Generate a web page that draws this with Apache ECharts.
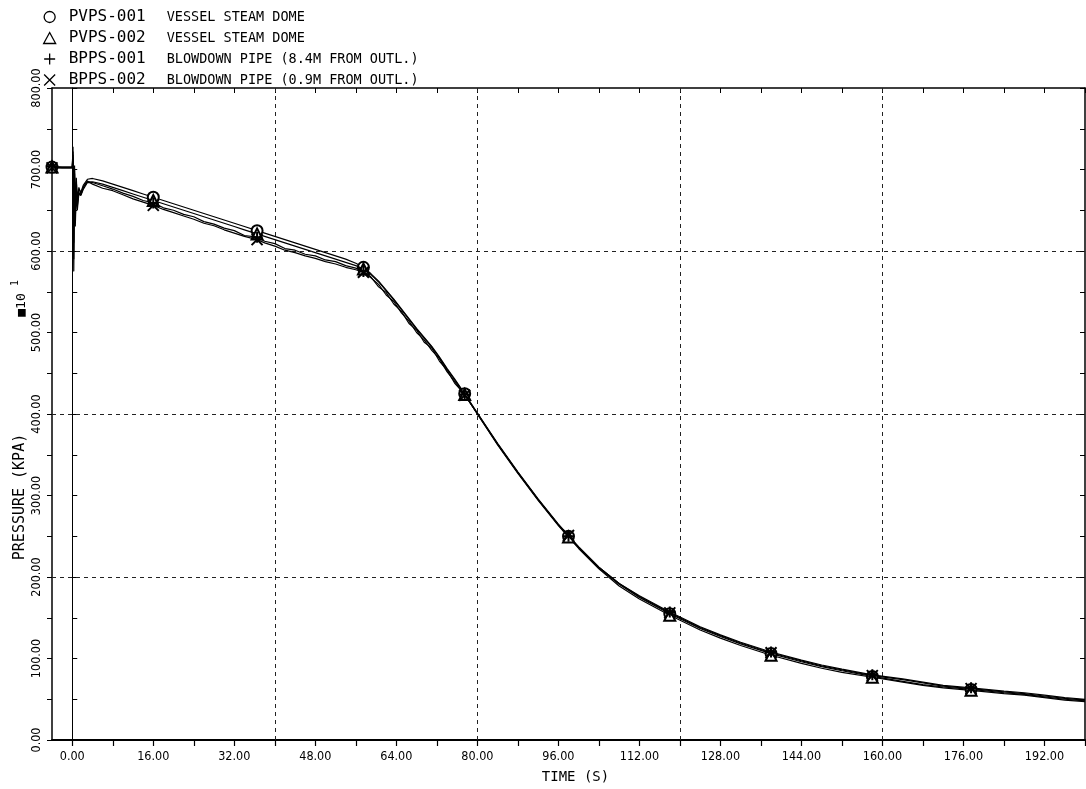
<!DOCTYPE html>
<html>
<head>
<meta charset="utf-8">
<title>Blowdown pressure</title>
<script src="https://cdn.jsdelivr.net/npm/echarts@6/dist/echarts.min.js"></script>
<style>
  html, body { margin: 0; padding: 0; background: #fff; }
  #chart { width: 1086px; height: 789px; }
</style>
</head>
<body>
<div id="chart"></div>
<script>
// Sample times (s), shared by all four pressure channels
const timeS = [
  -4, -2, 0, 0.15, 0.3, 0.45, 0.6, 0.8, 1.0, 1.3, 1.7, 2.2, 3.0,
  4, 6, 8, 10, 12, 14, 16, 18, 20, 22, 24, 26, 28, 30, 32, 34, 36.5, 38, 40, 42, 44, 46, 48, 50, 52, 54, 56, 57.5,
  59, 60.5, 62, 63.5, 65, 66.5, 68, 69.5, 71, 72.5, 74, 75.5, 77.5,
  80, 84, 88, 92, 96, 98, 100, 104, 108, 112, 118, 124, 128, 132, 138, 144, 148, 152, 158, 164, 168, 172, 177.5, 184, 188, 192, 196, 200
];

// Pressure, kPa x 10
const pvps001 = [
  703, 703, 703, 722, 640, 700, 655, 685, 665, 676, 672, 681, 688,
  689, 686, 682, 678, 674, 670, 666, 662, 658, 654, 650, 646, 642, 638, 634, 630, 625, 622, 618, 614, 610, 606, 602, 598, 594, 590, 585, 580,
  572, 563, 552, 541, 529, 517, 505, 494, 483, 470, 456, 443, 425,
  401, 363, 328, 295, 264, 250, 236, 211, 191, 175, 155, 137, 127, 118, 106, 96, 90, 85, 78, 72, 68, 65, 62, 58, 56, 53, 50, 48
];
const pvps002 = [
  703, 702, 702, 715, 610, 695, 645, 690, 660, 678, 670, 679, 685,
  685, 682, 678, 674, 670, 666, 662, 658, 654, 650, 646, 642, 638, 634, 630, 626, 621, 618, 614, 610, 606, 602, 598, 594, 590, 586, 582, 578,
  571, 562, 551, 540, 528, 516, 504, 493, 482, 469, 455, 442, 424,
  400, 362, 327, 294, 263, 249, 235, 210, 189, 173, 153, 135, 125, 116, 104, 94, 88, 83, 77, 71, 67, 64, 61, 57, 55, 52, 49, 47
];
const bpps001 = [
  704, 703, 703, 728, 575, 690, 630, 675, 650, 670, 668, 676, 684,
  684, 680, 676, 671, 667, 662, 659, 653, 650, 645, 642, 636, 633, 628, 625, 619, 617, 612, 609, 603, 601, 596, 594, 589, 587, 582, 579, 575,
  568, 556, 549, 535, 526, 511, 503, 488, 481, 465, 454, 438, 424,
  400, 363, 328, 295, 264, 250, 237, 212, 192, 177, 157, 139, 129, 120, 108, 98, 92, 87, 80, 75, 71, 67, 64, 60, 58, 55, 52, 50
];
const bpps002 = [
  702, 702, 702, 718, 590, 705, 640, 680, 655, 672, 669, 678, 686,
  682, 677, 674, 669, 664, 660, 656, 651, 647, 643, 639, 634, 631, 626, 622, 618, 614, 610, 606, 601, 598, 594, 591, 587, 584, 580, 577, 574,
  567, 559, 546, 538, 524, 514, 500, 491, 478, 468, 452, 440, 423,
  401, 364, 329, 296, 265, 251, 237, 212, 192, 176, 156, 138, 128, 119, 107, 97, 91, 86, 79, 74, 70, 66, 63, 59, 57, 54, 51, 49
];

// Times at which the plotter drew a channel symbol
const markerTimes = [-4, 16, 36.5, 57.5, 77.5, 98, 118, 138, 158, 177.5];

// Axis ticks, labels and dashed reference lines
const xLabelValues = [0, 16, 32, 48, 64, 80, 96, 112, 128, 144, 160, 176, 192];
const xTickValues = [0, 8, 16, 24, 32, 40, 48, 56, 64, 72, 80, 88, 96, 104, 112, 120, 128, 136, 144, 152, 160, 168, 176, 184, 192, 200];
const yLabelValues = [0, 100, 200, 300, 400, 500, 600, 700, 800];
const gridX = [40, 80, 120, 160];
const gridY = [200, 400, 600];

const channels = [
  { name: 'PVPS-001', desc: 'VESSEL STEAM DOME', values: pvps001, symbol: 'emptyCircle' },
  { name: 'PVPS-002', desc: 'VESSEL STEAM DOME', values: pvps002, symbol: 'emptyTriangle' },
  { name: 'BPPS-001', desc: 'BLOWDOWN PIPE (8.4M FROM OUTL.)', values: bpps001, symbol: 'path://M5,0L5,10M0,5L10,5' },
  { name: 'BPPS-002', desc: 'BLOWDOWN PIPE (0.9M FROM OUTL.)', values: bpps002, symbol: 'path://M0,0L10,10M10,0L0,10' }
];

const legendIcons = {
  'PVPS-001': 'circle',
  'PVPS-002': 'triangle',
  'BPPS-001': 'path://M5,0L5,10M0,5L10,5',
  'BPPS-002': 'path://M0,0L10,10M10,0L0,10'
};

const labelFont = "'Liberation Sans Narrow', 'DejaVu Sans Condensed', 'DejaVu Sans', sans-serif";
const plotFont = "'DejaVu Sans Mono', 'Liberation Mono', monospace";

const chart = echarts.init(document.getElementById('chart'), null, { renderer: 'canvas' });

const series = channels.map((ch, k) => {
  const s = {
    name: ch.name,
    type: 'line',
    xAxisIndex: 0,
    yAxisIndex: 0,
    showSymbol: true,
    symbolSize: 11,
    lineStyle: { color: '#000', width: 1.2 },
    itemStyle: { color: '#000', borderColor: '#000', borderWidth: 2 },
    emphasis: { disabled: true },
    z: 3 + k,
    data: timeS.map((t, i) => ({
      value: [t, ch.values[i]],
      symbol: markerTimes.includes(t) ? ch.symbol : 'none'
    }))
  };
  if (k === 0) {
    s.markLine = {
      silent: true,
      symbol: 'none',
      label: { show: false },
      lineStyle: { color: '#222', width: 1, type: [4, 4] },
      data: gridX.map(v => ({ xAxis: v })).concat(gridY.map(v => ({ yAxis: v })))
    };
  }
  return s;
});

const descByName = {};
channels.forEach(ch => { descByName[ch.name] = ch.desc; });

chart.setOption({
  animation: false,
  backgroundColor: '#fff',
  grid: { left: 52, right: 1, top: 88, bottom: 43, containLabel: false },
  legend: {
    orient: 'vertical',
    left: 38,
    top: 4,
    itemWidth: 12,
    itemHeight: 11,
    itemGap: 5,
    selectedMode: false,
    itemStyle: { color: 'transparent', borderColor: '#000', borderWidth: 1.3 },
    data: channels.map(ch => ({ name: ch.name, icon: legendIcons[ch.name] })),
    formatter: name => `{n|${name}}{d|${descByName[name]}}`,
    textStyle: {
      padding: [0, 0, 0, 8],
      rich: {
        n: { fontFamily: plotFont, fontSize: 16, color: '#000', width: 98, lineHeight: 18 },
        d: { fontFamily: plotFont, fontSize: 13.5, color: '#000', lineHeight: 18 }
      }
    }
  },
  xAxis: [
    {
      type: 'value',
      position: 'bottom',
      min: -4,
      max: 200,
      axisLine: { onZero: false, lineStyle: { color: '#000', width: 2 } },
      axisTick: { show: true, inside: false, length: 6, customValues: xTickValues, lineStyle: { color: '#000', width: 1.2 } },
      axisLabel: {
        customValues: xLabelValues,
        formatter: v => v.toFixed(2),
        margin: 10,
        color: '#000',
        fontFamily: labelFont,
        fontSize: 12.5
      },
      splitLine: { show: false },
      name: 'TIME (S)',
      nameLocation: 'middle',
      nameGap: 30,
      nameTextStyle: { fontFamily: plotFont, fontSize: 14, color: '#000', padding: [0, 0, 0, 14] }
    },
    {
      type: 'value',
      position: 'top',
      min: -4,
      max: 200,
      axisLine: { onZero: false, lineStyle: { color: '#000', width: 1.5 } },
      axisTick: { show: true, inside: true, length: 5, customValues: xTickValues, lineStyle: { color: '#000' } },
      axisLabel: { show: false },
      splitLine: { show: false }
    }
  ],
  yAxis: [
    {
      type: 'value',
      position: 'left',
      min: 0,
      max: 800,
      interval: 50,
      axisLine: { show: true, onZero: false, lineStyle: { color: '#000', width: 1.5 } },
      axisTick: { show: true, inside: false, length: 5, lineStyle: { color: '#000' } },
      axisLabel: {
        customValues: yLabelValues,
        rotate: 90,
        margin: 9,
        formatter: v => v.toFixed(2),
        color: '#000',
        fontFamily: labelFont,
        fontSize: 12.5
      },
      splitLine: { show: false }
    },
    {
      // axis drawn through t = 0
      type: 'value',
      position: 'left',
      min: 0,
      max: 800,
      interval: 50,
      axisLine: { show: true, onZero: true, lineStyle: { color: '#000', width: 1 } },
      axisTick: { show: true, inside: true, length: 5, lineStyle: { color: '#000' } },
      axisLabel: { show: false },
      splitLine: { show: false }
    },
    {
      type: 'value',
      position: 'right',
      min: 0,
      max: 800,
      interval: 50,
      axisLine: { show: true, onZero: false, lineStyle: { color: '#000', width: 1.5 } },
      axisTick: { show: true, inside: true, length: 5, lineStyle: { color: '#000' } },
      axisLabel: { show: false },
      splitLine: { show: false }
    }
  ],
  graphic: [
    {
      type: 'text',
      x: 20,
      y: 497,
      rotation: Math.PI / 2,
      style: {
        text: 'PRESSURE (KPA)',
        fontFamily: plotFont,
        fontSize: 15,
        fill: '#000',
        align: 'center',
        verticalAlign: 'middle'
      }
    },
    {
      type: 'text',
      x: 22,
      y: 305,
      rotation: Math.PI / 2,
      style: {
        text: '■10',
        fontFamily: plotFont,
        fontSize: 13,
        fill: '#000',
        align: 'center',
        verticalAlign: 'middle'
      }
    },
    {
      type: 'text',
      x: 15,
      y: 283,
      rotation: Math.PI / 2,
      style: {
        text: '1',
        fontFamily: plotFont,
        fontSize: 10,
        fill: '#000',
        align: 'center',
        verticalAlign: 'middle'
      }
    }
  ],
  series: series
});
</script>
</body>
</html>
